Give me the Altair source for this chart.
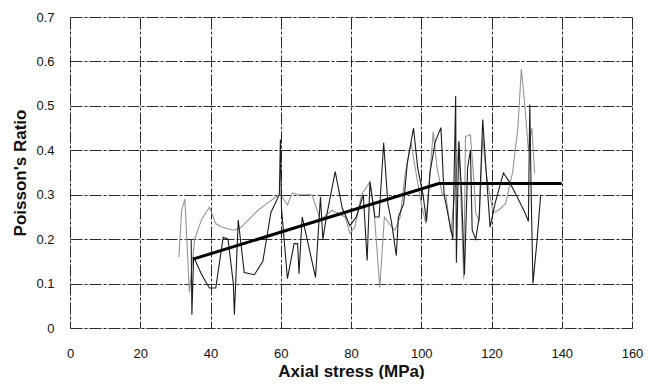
import altair as alt
import pandas as pd

# Series A (grey, thin)
grey_x = [31.0, 31.8, 32.7, 34.0, 35.5, 37.5, 39.7, 41.5, 43.0, 46.5, 48.5, 51.0, 53.5, 56.0, 58.6, 60.0,
          61.9, 63.3, 65.0, 67.0, 68.9, 71.3, 74.6, 78.3, 79.7, 81.1, 83.0, 85.4, 86.5, 88.2, 89.5, 91.4,
          92.5, 94.0, 95.5, 97.1, 98.5, 100.0, 101.3, 102.5, 103.4, 104.5, 106.0, 107.0, 108.4, 109.5,
          110.7, 111.5, 112.1, 112.6, 114.0, 115.0, 115.5, 116.5, 117.5, 118.5, 119.5, 120.5, 122.0,
          124.0, 126.0, 127.5, 128.5, 129.5, 130.5, 131.5, 132.3]
grey_y = [0.16, 0.265, 0.29, 0.08, 0.20, 0.245, 0.272, 0.235, 0.228, 0.22, 0.225, 0.245, 0.265, 0.28, 0.295, 0.30,
          0.277, 0.304, 0.30, 0.30, 0.30, 0.243, 0.265, 0.25, 0.213, 0.227, 0.30, 0.329, 0.27, 0.091, 0.25, 0.23,
          0.22, 0.25, 0.35, 0.417, 0.35, 0.28, 0.235, 0.35, 0.442, 0.36, 0.30, 0.30, 0.215, 0.30,
          0.42, 0.25, 0.111, 0.431, 0.435, 0.33, 0.26, 0.24, 0.43, 0.35, 0.30, 0.26, 0.265,
          0.28, 0.35, 0.45, 0.583, 0.50, 0.40, 0.45, 0.349]

# Series B (black, thin)
black_x = [34.5, 34.7, 35.2, 37.5, 39.7, 41.5, 43.6, 45.0, 46.5, 46.8, 47.9, 49.6, 52.5, 54.9, 57.2, 59.6,
           59.9, 60.2, 61.9, 63.8, 64.8, 65.2, 66.1, 67.5, 69.9, 71.3, 72.0, 73.0, 75.5, 77.5, 79.7, 81.5,
           83.5, 84.6, 85.4, 86.8, 88.0, 89.3, 90.5, 91.5, 92.9, 93.5, 95.0, 96.0, 97.8, 99.0, 100.5,
           101.5, 102.5, 104.0, 105.6, 106.5, 108.0, 109.0, 109.8, 110.0, 110.7, 111.5, 112.3, 113.2,
           114.0, 114.5, 115.5, 116.5, 117.5, 118.5, 119.6, 121.0, 123.4, 125.0, 127.0, 129.5, 130.5,
           130.9, 131.3, 131.8, 133.0, 134.0]
black_y = [0.20, 0.03, 0.16, 0.12, 0.09, 0.09, 0.204, 0.20, 0.10, 0.03, 0.243, 0.125, 0.12, 0.15, 0.26, 0.30,
           0.424, 0.27, 0.111, 0.19, 0.19, 0.122, 0.25, 0.20, 0.114, 0.295, 0.20, 0.25, 0.352, 0.27, 0.23, 0.25,
           0.30, 0.152, 0.329, 0.25, 0.25, 0.417, 0.28, 0.24, 0.163, 0.25, 0.28, 0.37, 0.45, 0.36, 0.30,
           0.24, 0.35, 0.42, 0.451, 0.30, 0.24, 0.20, 0.522, 0.147, 0.42, 0.30, 0.12, 0.36,
           0.40, 0.22, 0.20, 0.25, 0.469, 0.35, 0.227, 0.28, 0.349, 0.33, 0.30, 0.26, 0.24,
           0.503, 0.30, 0.10, 0.20, 0.30]

# Bilinear trend
trend_x = [35, 105, 140]
trend_y = [0.155, 0.325, 0.325]

x_ticks = [0, 20, 40, 60, 80, 100, 120, 140, 160]
y_ticks = [0, 0.1, 0.2, 0.3, 0.4, 0.5, 0.6, 0.7]

rows = []
for i, (x, y) in enumerate(zip(grey_x, grey_y)):
    rows.append({"s": "grey", "x": x, "y": y, "o": i})
for i, (x, y) in enumerate(zip(black_x, black_y)):
    rows.append({"s": "black", "x": x, "y": y, "o": i})
df = pd.DataFrame(rows)
tdf = pd.DataFrame({"x": trend_x, "y": trend_y, "o": range(len(trend_x))})

FONT = "Liberation Sans"

xs = alt.Scale(domain=[0, 160], nice=False, zero=False)
ys = alt.Scale(domain=[0, 0.7], nice=False, zero=False)

xaxis = alt.Axis(values=x_ticks, title="Axial stress (MPa)", format="d", ticks=False, domain=False,
                 labelPadding=19, labelFontSize=13, labelFont=FONT, labelColor="#111",
                 titleFont=FONT, titleFontSize=17, titleFontWeight="bold", titleColor="#111",
                 titlePadding=8, minExtent=27, maxExtent=27,
                 gridColor="#2a2a2a", gridDash=[12, 2, 3, 2], gridWidth=1, labelFlush=False)
yaxis = alt.Axis(values=y_ticks, title="Poisson's Ratio", format="~g", ticks=False, domain=False,
                 labelPadding=16, labelFontSize=13, labelFont=FONT, labelColor="#111",
                 titleFont=FONT, titleFontSize=17, titleFontWeight="bold", titleColor="#111",
                 titlePadding=7, minExtent=34, maxExtent=34,
                 gridColor="#2a2a2a", gridDash=[12, 2, 3, 2], gridWidth=1, labelFlush=False)

lines = alt.Chart(df).mark_line(strokeWidth=1.1).encode(
    x=alt.X("x:Q", scale=xs, axis=xaxis),
    y=alt.Y("y:Q", scale=ys, axis=yaxis),
    color=alt.Color("s:N", scale=alt.Scale(domain=["grey", "black"], range=["#959595", "#1e1e1e"]), legend=None),
    detail="s:N",
    order="o:Q",
)

trend = alt.Chart(tdf).mark_line(strokeWidth=3, color="#000").encode(
    x=alt.X("x:Q", scale=xs),
    y=alt.Y("y:Q", scale=ys),
    order="o:Q",
)

chart = alt.layer(lines, trend).properties(
    width=562, height=311,
    autosize=alt.AutoSizeParams(type="none"),
    padding={"left": 62, "top": 9, "right": 13, "bottom": 51},
).configure_view(stroke=None).configure(background="white")

chart.save("out.html", embed_options={"renderer": "svg", "actions": False})
